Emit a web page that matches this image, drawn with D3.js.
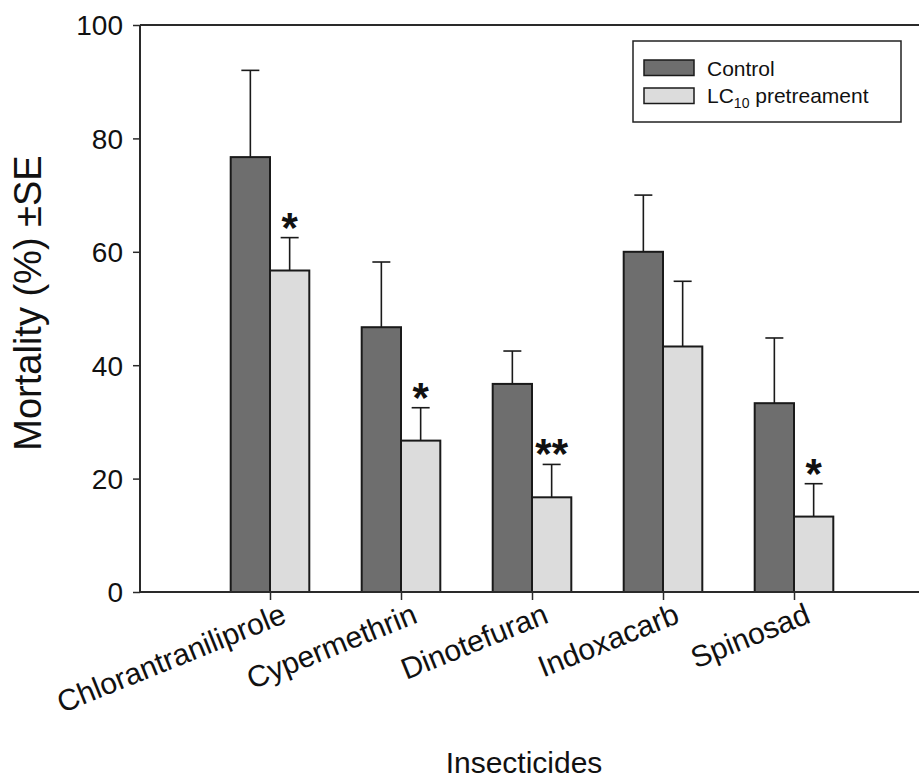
<!DOCTYPE html>
<html>
<head>
<meta charset="utf-8">
<script src="https://cdn.jsdelivr.net/npm/d3@7"></script>
<style>
  body { margin: 0; background: #fff; }
  text { font-family: "Liberation Sans", Arial, sans-serif; fill: #111; }
</style>
</head>
<body>
<script>
// mortality data
var insecticides = ["Chlorantraniliprole", "Cypermethrin", "Dinotefuran", "Indoxacarb", "Spinosad"];
var controlMean = [76.7, 46.7, 36.7, 60.0, 33.3];
var controlSE   = [15.3, 11.5, 5.8, 10.0, 11.5];
var pretreatMean = [56.7, 26.7, 16.7, 43.3, 13.3];
var pretreatSE   = [5.8, 5.8, 5.8, 11.5, 5.8];
var signif = ["*", "*", "**", "", "*"];
var yTicks = [0, 20, 40, 60, 80, 100];

var width = 919, height = 779;

var svg = d3.select("body").append("svg")
    .attr("width", width)
    .attr("height", height);

//scales
var x = d3.scaleLinear().domain([0, 6]).range([139, 925]);
var y = d3.scaleLinear().domain([0, 100]).range([592, 25]);
var barW = x(0.3) - x(0);

var axisColor = "#2a2a2a";

// bars
insecticides.forEach(function (name, i) {
    var cx = x(i + 1);

    // error bars (upper only), drawn behind bars
    [[cx - barW / 2, controlMean[i], controlSE[i]],
     [cx + barW / 2, pretreatMean[i], pretreatSE[i]]].forEach(function (e) {
        svg.append("line")
            .attr("x1", e[0]).attr("x2", e[0])
            .attr("y1", y(e[1])).attr("y2", y(e[1] + e[2]))
            .attr("stroke", "#1a1a1a").attr("stroke-width", 1.6);
        svg.append("line")
            .attr("x1", e[0] - 9).attr("x2", e[0] + 9)
            .attr("y1", y(e[1] + e[2])).attr("y2", y(e[1] + e[2]))
            .attr("stroke", "#1a1a1a").attr("stroke-width", 1.6);
    });

    svg.append("rect")
        .attr("x", cx - barW).attr("y", y(controlMean[i]))
        .attr("width", barW).attr("height", y(0) - y(controlMean[i]))
        .attr("fill", "#6e6e6e").attr("stroke", "#1a1a1a").attr("stroke-width", 2);

    svg.append("rect")
        .attr("x", cx).attr("y", y(pretreatMean[i]))
        .attr("width", barW).attr("height", y(0) - y(pretreatMean[i]))
        .attr("fill", "#dcdcdc").attr("stroke", "#1a1a1a").attr("stroke-width", 2);

    if (signif[i]) {
        svg.append("text")
            .attr("x", cx + barW / 2)
            .attr("y", y(pretreatMean[i] + pretreatSE[i]) + 4)
            .attr("text-anchor", "middle")
            .style("font-size", "42px")
            .style("font-weight", "bold")
            .text(signif[i]);
    }
});

// y axis
var yAxis = svg.append("g")
    .attr("transform", "translate(140,0)")
    .call(d3.axisLeft(y).tickValues(yTicks).tickSize(7).tickPadding(10).tickFormat(d3.format("d")));
yAxis.select(".domain").remove();
yAxis.selectAll("line").attr("stroke", axisColor).attr("stroke-width", 1.5);
yAxis.selectAll("text").style("font-size", "28px").attr("fill", "#111").attr("dy", "0.35em");

// x axis ticks
var xAxis = svg.append("g")
    .attr("transform", "translate(0,592)")
    .call(d3.axisBottom(x).tickValues([1, 2, 3, 4, 5]).tickSize(8).tickFormat(""));
xAxis.select(".domain").remove();
xAxis.selectAll("line").attr("stroke", axisColor).attr("stroke-width", 1.5);

// frame lines
svg.append("line").attr("x1", 140).attr("x2", 140).attr("y1", 25).attr("y2", 592)
    .attr("stroke", axisColor).attr("stroke-width", 2);
svg.append("line").attr("x1", 140).attr("x2", width).attr("y1", 592).attr("y2", 592)
    .attr("stroke", axisColor).attr("stroke-width", 2);
svg.append("line").attr("x1", 140).attr("x2", width).attr("y1", 25).attr("y2", 25)
    .attr("stroke", axisColor).attr("stroke-width", 2);

// rotated category labels
svg.selectAll(".cat")
    .data(insecticides)
    .enter().append("text")
    .attr("class", "cat")
    .attr("transform", function (d, i) { return "translate(" + (x(i + 1) + 18) + ",622) rotate(-22)"; })
    .attr("text-anchor", "end")
    .style("font-size", "30px")
    .text(function (d) { return d; });

// axis titles
svg.append("text")
    .attr("transform", "translate(41,303) rotate(-90)")
    .attr("text-anchor", "middle")
    .style("font-size", "38px")
    .text("Mortality (%) \u00b1SE");

svg.append("text")
    .attr("x", 524).attr("y", 773)
    .attr("text-anchor", "middle")
    .style("font-size", "30px")
    .text("Insecticides");

// legend
var legend = svg.append("g");
legend.append("rect")
    .attr("x", 633).attr("y", 41).attr("width", 268).attr("height", 81)
    .attr("fill", "#fff").attr("stroke", "#222").attr("stroke-width", 1.5);
legend.append("rect")
    .attr("x", 644).attr("y", 60).attr("width", 50).attr("height", 15.5)
    .attr("fill", "#6e6e6e").attr("stroke", "#1a1a1a").attr("stroke-width", 1.5);
legend.append("rect")
    .attr("x", 644).attr("y", 88).attr("width", 50).attr("height", 15.5)
    .attr("fill", "#dcdcdc").attr("stroke", "#1a1a1a").attr("stroke-width", 1.5);
legend.append("text")
    .attr("x", 707).attr("y", 75.5)
    .style("font-size", "21px")
    .text("Control");
var lt = legend.append("text")
    .attr("x", 707).attr("y", 103)
    .style("font-size", "21px");
lt.append("tspan").text("LC");
lt.append("tspan").attr("dy", 5).style("font-size", "14px").text("10");
lt.append("tspan").attr("dy", -5).text(" pretreament");
</script>
</body>
</html>
